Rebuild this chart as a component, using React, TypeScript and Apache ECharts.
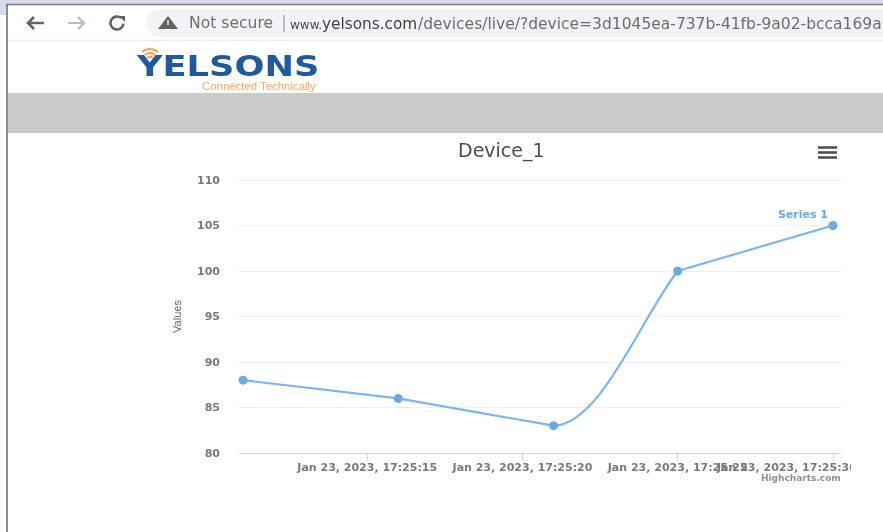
import React, { useEffect, useRef } from "react";
import * as echarts from "echarts";

const BASE = Date.UTC(2023, 0, 23, 17, 25, 0);
const seconds = [11, 16, 21, 25, 30];
const values = [88, 86, 83, 100, 105];
const tickSeconds = [15, 20, 25, 30];
const labelSeconds = [15, 20, 25];
const seriesName = "Series 1";
const chartTitle = "Device_1";
const yTitle = "Values";
const lastLabel = "Jan 23, 2023, 17:25:30";
const urlParts = ["www.", "yelsons.com", "/devices/live/?device=3d1045ea-737b-41fb-9a02-bcca169a"];

const ms = (s: number) => BASE + s * 1000;
const pad = (n: number) => String(n).padStart(2, "0");
const fmt = (v: number) => {
  const d = new Date(v);
  return `Jan 23, 2023, ${pad(d.getUTCHours())}:${pad(d.getUTCMinutes())}:${pad(d.getUTCSeconds())}`;
};

const LABEL_FONT = "DejaVu Sans";
const BLUE = "#7cb5ec";
const LABEL_GREY = "#77797e";

function chrome(): any[] {
  const line = (x1: number, y1: number, x2: number, y2: number, stroke: string, lineWidth = 2) => ({
    type: "line", shape: { x1, y1, x2, y2 }, style: { stroke, lineWidth }, silent: true,
  });
  const poly = (points: number[][], stroke: string, lineWidth = 2.4) => ({
    type: "polyline", shape: { points }, style: { stroke, lineWidth, fill: "none" }, silent: true,
  });
  const text = (x: number, y: number, t: string, fontSize: number, fill: string, extra: any = {}) => ({
    type: "text", x, y, silent: true,
    style: { text: t, fontSize, fill, fontFamily: LABEL_FONT, textVerticalAlign: "middle", ...extra },
  });
  return [
    { type: "rect", shape: { x: 0, y: 0, width: 883, height: 4 }, style: { fill: "#d6dcec" }, silent: true },
    { type: "rect", shape: { x: 0, y: 0, width: 6, height: 15 }, style: { fill: "#d6dcec" }, silent: true },
    line(6, 4.5, 883, 4.5, "#777b80", 1.5),
    line(7, 4, 7, 532, "#6e7073", 1.6),
    line(8, 40.5, 883, 40.5, "#eeeff0", 1.5),
    { type: "rect", shape: { x: 146, y: 9, width: 800, height: 28, r: 14 }, style: { fill: "#f1f3f4" }, silent: true },
    // back, forward, reload
    line(28, 23, 44, 23, "#5f6368", 2.4),
    poly([[34, 17], [28, 23], [34, 29]], "#5f6368", 2.6),
    line(68, 23, 84, 23, "#b9bcc0"),
    poly([[78, 17], [84, 23], [78, 29]], "#b9bcc0"),
    { type: "arc", shape: { cx: 117, cy: 23, r: 6.5, startAngle: 0.1, endAngle: 5.4 }, style: { stroke: "#5f6368", lineWidth: 2.6, fill: "none" }, silent: true },
    { type: "polygon", shape: { points: [[119, 16], [125, 16], [125, 22]] }, style: { fill: "#5f6368" }, silent: true },
    // warning sign
    { type: "polygon", shape: { points: [[158, 29], [168, 16], [178, 29]] }, style: { fill: "#5f6368" }, silent: true },
    line(168, 20, 168, 25, "#f1f3f4", 1.4),
    text(189, 23, "Not secure", 15.6, "#6b7075"),
    line(284, 15, 284, 32, "#8a8d91", 1),
    text(290, 25, urlParts[0], 12, "#4a4d52"),
    text(322, 24, urlParts[1], 15.3, "#3e4146"),
    text(418, 24, urlParts[2], 15.5, "#6a6e73"),
    // logo
    { type: "arc", shape: { cx: 150, cy: 61, r: 12, startAngle: -2.3, endAngle: -0.85 }, style: { stroke: "#f6a055", lineWidth: 2 }, silent: true },
    { type: "arc", shape: { cx: 150, cy: 61, r: 8, startAngle: -2.3, endAngle: -0.85 }, style: { stroke: "#f6a055", lineWidth: 2 }, silent: true },
    { type: "arc", shape: { cx: 150, cy: 61, r: 4, startAngle: -2.3, endAngle: -0.85 }, style: { stroke: "#f6a055", lineWidth: 2 }, silent: true },
    {
      type: "text", x: 137, y: 66, scaleX: 1.47, scaleY: 1.15, silent: true,
      style: { text: "YELSONS", fontSize: 24, fontWeight: "bold", fill: "#1f5a9e", fontFamily: "DejaVu Sans", textVerticalAlign: "middle" },
    },
    text(202, 86, "Connected Technically", 11.4, "#f5a565", { fontFamily: "Liberation Sans" }),
    { type: "rect", shape: { x: 8, y: 93, width: 875, height: 40 }, style: { fill: "#c9caca" }, silent: true },
    // hamburger
    line(818, 147.5, 837, 147.5, "#4f5256", 2.6),
    line(818, 152.5, 837, 152.5, "#4f5256", 2.6),
    line(818, 157.5, 837, 157.5, "#4f5256", 2.6),
    // overlapped final label, cut at the picture's edge
    text(717, 467, lastLabel, 11, LABEL_GREY, { fontWeight: "bold" }),
    { type: "rect", z: 200, shape: { x: 851, y: 460, width: 32, height: 14 }, style: { fill: "#fff" }, silent: true },
    text(761, 478, "Highcharts.com", 9, "#8d9094", { fontWeight: "bold" }),
  ].map((e) => ({ z: 100, ...e }));
}

// Highcharts-like path: straight runs, with one spline section between the 3rd and 4th points
const renderSegment = (params: any, api: any) => {
  const i = params.dataIndex;
  if (i >= seconds.length - 1) return { type: "group", children: [] };
  const [x1, y1] = api.coord([ms(seconds[i]), values[i]]);
  const [x2, y2] = api.coord([ms(seconds[i + 1]), values[i + 1]]);
  const style = { stroke: BLUE, lineWidth: 2.2, fill: "none" };
  if (i === 2) {
    const dx = x2 - x1;
    const dy = y2 - y1;
    return {
      type: "bezierCurve", style,
      shape: { x1, y1, x2, y2, cpx1: x1 + 0.376 * dx, cpy1: y1 + 0.006 * dy, cpx2: x1 + 0.696 * dx, cpy2: y1 + 0.684 * dy },
    };
  }
  return { type: "line", style, shape: { x1, y1, x2, y2 } };
};

export default function App() {
  const ref = useRef<HTMLDivElement>(null);
  useEffect(() => {
    document.body.style.margin = "0";
    const chart = echarts.init(ref.current!, undefined, { renderer: "svg" });
    const points = seconds.map((s, i) => [ms(s), values[i]]);
    chart.setOption({
      animation: false,
      backgroundColor: "#fff",
      title: {
        text: chartTitle, left: 453, top: 135,
        textStyle: { fontSize: 19, fontWeight: "normal", color: "#4a4d57", fontFamily: LABEL_FONT },
      },
      grid: { left: 239, right: 42, top: 180, height: 273 },
      xAxis: {
        type: "value",
        min: ms(10.87), max: ms(30.26),
        splitLine: { show: false },
        axisLine: { lineStyle: { color: "#ccd6eb", width: 1 } },
        axisTick: { show: true, length: 8, lineStyle: { color: "#ccd6eb" }, customValues: tickSeconds.map(ms) },
        axisLabel: {
          customValues: labelSeconds.map(ms), formatter: (v: number) => fmt(v),
          color: LABEL_GREY, fontSize: 11, fontWeight: "bold", fontFamily: LABEL_FONT, margin: 9,
          hideOverlap: false, showMinLabel: true, showMaxLabel: true,
        },
      },
      yAxis: {
        type: "value", min: 80, max: 110, interval: 5,
        name: yTitle, nameLocation: "middle", nameGap: 57, nameRotate: 90,
        nameTextStyle: { color: "#666", fontSize: 11, fontFamily: "Liberation Sans Narrow, Liberation Sans" },
        axisLine: { show: false }, axisTick: { show: false },
        axisLabel: { color: LABEL_GREY, fontSize: 11, fontWeight: "bold", fontFamily: LABEL_FONT, margin: 19 },
        splitLine: { lineStyle: { color: "#edf0f4", width: 1 } },
      },
      series: [
        { type: "custom", name: seriesName, renderItem: renderSegment, data: points, encode: { x: 0, y: 1 }, silent: true, z: 2, clip: false },
        {
          type: "line", name: seriesName, symbol: "circle", symbolSize: 9, z: 3,
          lineStyle: { opacity: 0 },
          itemStyle: { color: "#6aaae4" },
          data: points.map((p, i) => ({
            value: p,
            label: i === seconds.length - 1
              ? { show: true, position: "top", distance: 1, offset: [-30, 0], formatter: "{a}", color: "#6aaae4", fontSize: 11, fontWeight: "bold", fontFamily: LABEL_FONT }
              : { show: false },
          })),
        },
      ],
      graphic: { elements: chrome() },
    });
    return () => chart.dispose();
  }, []);
  return <div ref={ref} style={{ position: "fixed", left: 0, top: 0, width: 883, height: 532, filter: "blur(0.55px)" }} />;
}
